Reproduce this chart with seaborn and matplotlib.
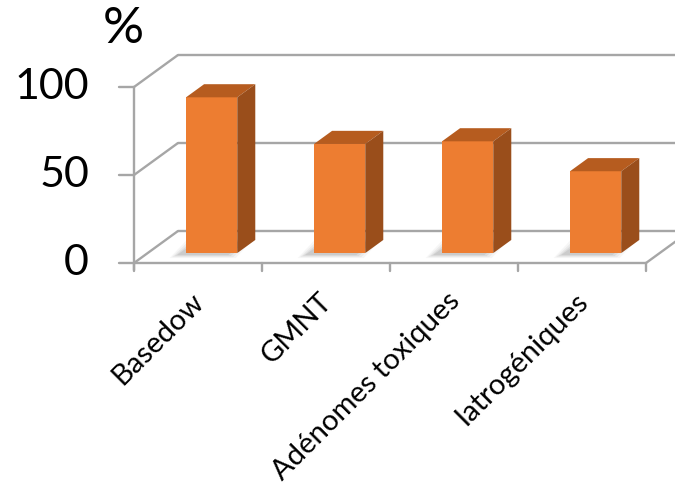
import matplotlib
matplotlib.use("Agg")
import matplotlib.pyplot as plt
import seaborn as sns
from matplotlib.patches import Polygon

# ---- data ----
categories = ["Basedow", "GMNT", "Adénomes toxiques", "Iatrogéniques"]
values = [88.5, 62, 63.5, 46.5]
y_ticks = [0, 50, 100]
y_unit_label = "%"

# ---- styling ----
front_color = "#ED7D31"
top_color = "#B65C1F"
side_color = "#9A4E1B"
grid_color = "#A6A6A6"
FONT = ["Lato", "DejaVu Sans"]

sns.set_theme(style="white")
plt.rcParams["font.family"] = FONT

W, H = 675, 491
fig = plt.figure(figsize=(W / 100, H / 100), dpi=100)
ax = fig.add_axes([0, 0, 1, 1])

sns.barplot(x=categories, y=values, ax=ax, width=0.4, color=front_color,
            saturation=1, linewidth=0, zorder=4)

# pixel mapping: x=-0.5 -> 134px, 128px per category; y=0 -> 263px, 1.76px/unit
PX_X, PX_Y = 128.0, 1.76
x0px, y0px = 134.0, 263.0
ax.set_xlim(-0.5 - x0px / PX_X, -0.5 + (W - x0px) / PX_X)
ax.set_ylim(-(H - y0px) / PX_Y, y0px / PX_Y)
ax.axis("off")

# depth of the floor (full) in data units
DX = 44 / PX_X
DY = 32 / PX_Y
d_front, d_bar = 0.31, 0.41
lw = 1.7

n = len(categories)
xl, xr = -0.5, n - 0.5
# left wall diagonals and back wall lines
for t in y_ticks:
    ax.plot([xl, xl + DX], [t, t + DY], color=grid_color, lw=lw, zorder=1,
            solid_capstyle="butt")
    ax.plot([xl + DX, xr + DX + 1], [t + DY, t + DY], color=grid_color, lw=lw,
            zorder=1)
    # y ticks
    ax.plot([xl - 15 / PX_X, xl], [t, t], color=grid_color, lw=lw, zorder=1)
    ax.text(xl - 45 / PX_X, t, str(t), ha="right", va="center", fontsize=31,
            color="black")
# left axis line
ax.plot([xl, xl], [-7 / PX_Y, y_ticks[-1]], color=grid_color, lw=lw, zorder=1)
# floor front edge + right diagonal
ax.plot([xl, xr], [0, 0], color=grid_color, lw=lw, zorder=1)
ax.plot([xr, xr + DX], [0, DY], color=grid_color, lw=lw, zorder=1)
for i in range(n + 1):
    ax.plot([xl + i, xl + i], [0, -8 / PX_Y], color=grid_color, lw=lw, zorder=1)

ax.text(xl - 31 / PX_X, (y0px - 6) / PX_Y, y_unit_label, ha="left", va="top",
        fontsize=37, color="black")

# bars: shift front face back to its depth, add top and side faces
fx, fy = d_front * DX, d_front * DY
bx, by = d_bar * DX, d_bar * DY
for p in ax.patches:
    x = p.get_x() + fx
    w = p.get_width()
    h = p.get_height()
    p.set_x(x)
    p.set_y(fy)
    y = fy
    # shadow (layered for softness)
    for k, a in enumerate([0.05, 0.08, 0.10, 0.13]):
        g = (3 - k) * 2.5
        sx = -9 / PX_X
        sy = -2 / PX_Y
        pts = [(x + sx - g / PX_X, y + sy - g / PX_Y * 0.4),
               (x + w + sx + g / PX_X, y + sy - g / PX_Y * 0.4),
               (x + w + bx + sx + g / PX_X, y + by + sy + g / PX_Y * 0.4),
               (x + bx + sx - g / PX_X, y + by + sy + g / PX_Y * 0.4)]
        ax.add_patch(Polygon(pts, closed=True, facecolor="#606060", alpha=a,
                             edgecolor="none", zorder=2))
    top = [(x, y + h), (x + w, y + h), (x + w + bx, y + h + by), (x + bx, y + h + by)]
    side = [(x + w, y), (x + w + bx, y + by), (x + w + bx, y + h + by), (x + w, y + h)]
    ax.add_patch(Polygon(top, closed=True, facecolor=top_color, edgecolor="none",
                         zorder=4))
    ax.add_patch(Polygon(side, closed=True, facecolor=side_color, edgecolor="none",
                         zorder=4))

# category labels
for i, lab in enumerate(categories):
    ax.text(i + 2 / PX_X, -(297 - y0px) / PX_Y, lab, rotation=45, ha="right",
            va="center", rotation_mode="anchor", fontsize=21, color="black")

fig.savefig("out.png", dpi=100, facecolor="white")
